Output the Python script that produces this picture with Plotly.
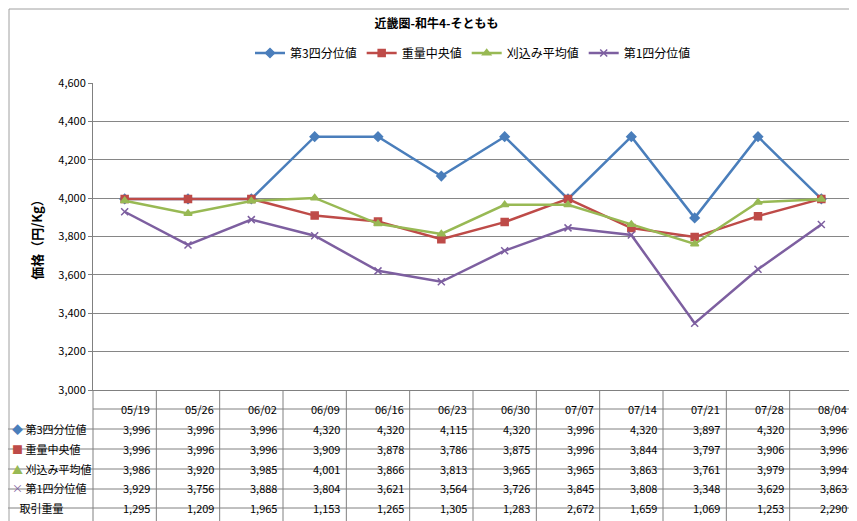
import plotly.graph_objects as go

dates = ['05/19', '05/26', '06/02', '06/09', '06/16', '06/23', '06/30', '07/07', '07/14', '07/21', '07/28', '08/04']
q3 = [3996, 3996, 3996, 4320, 4320, 4115, 4320, 3996, 4320, 3897, 4320, 3996]
median = [3996, 3996, 3996, 3909, 3878, 3786, 3875, 3996, 3844, 3797, 3906, 3996]
trimmed = [3986, 3920, 3985, 4001, 3866, 3813, 3965, 3965, 3863, 3761, 3979, 3994]
q1 = [3929, 3756, 3888, 3804, 3621, 3564, 3726, 3845, 3808, 3348, 3629, 3863]
volume = [1295, 1209, 1965, 1153, 1265, 1305, 1283, 2672, 1659, 1069, 1253, 2290]

series = [
    ('第3四分位値', q3, '#4A7EBB', 'diamond', '◆'),
    ('重量中央値', median, '#BE4B48', 'square', '■'),
    ('刈込み平均値', trimmed, '#98B954', 'triangle-up', '▲'),
    ('第1四分位値', q1, '#7D5FA0', 'x-thin', '×'),
]

FONT = 'Noto Sans CJK JP'
fig = go.Figure()
for name, vals, color, sym, _ in series:
    fig.add_trace(go.Scatter(
        x=dates, y=vals, name=name, mode='lines+markers',
        line=dict(color=color, width=2.5),
        marker=dict(symbol=sym, size=7, color=color, line=dict(color=color, width=1.5)),
    ))

# pixel -> paper coordinates (plot area 85..845 x 75..382)
def px(p):
    return (p - 85) / 760

def py(p):
    return (382 - p) / 307

col_w = 760 / 12
row_lines = [401, 421, 441, 461, 481, 500, 520]
line = dict(color='#808080', width=1)
shapes = []
for p in row_lines:
    shapes.append(dict(type='line', xref='paper', yref='paper', x0=px(0) if p != 401 else 0,
                       x1=1, y0=py(p), y1=py(p), line=line))
for i in range(13):
    shapes.append(dict(type='line', xref='paper', yref='paper', x0=i / 12, x1=i / 12,
                       y0=py(382), y1=py(520), line=line))
shapes.append(dict(type='rect', xref='paper', yref='paper', x0=px(1), x1=px(856),
                   y0=py(520), y1=py(1), line=dict(color='#A0A0A0', width=1)))

ann = []
for i, d in enumerate(dates):
    ann.append(dict(x=(i + 1) / 12, y=py(411), xref='paper', yref='paper', text=d, showarrow=False,
                    xanchor='right', xshift=-4, font=dict(size=11)))
rows = [(s[4], s[2], s[0], s[1]) for s in series] + [('', None, '取引重量', volume)]
for r, (glyph, color, label, vals) in enumerate(rows):
    yc = py(431 + 19.8 * r)
    txt = (f'<span style="color:{color}">{glyph}</span> ' if glyph else '   ') + label
    ann.append(dict(x=px(2), y=yc, xref='paper', yref='paper', text=txt, showarrow=False,
                    xanchor='left', font=dict(size=11)))
    for i, v in enumerate(vals):
        ann.append(dict(x=(i + 1) / 12, y=yc, xref='paper', yref='paper', text=f'{v:,}', showarrow=False,
                        xanchor='right', xshift=-4, font=dict(size=11)))

fig.update_layout(
    width=857, height=521,
    margin=dict(l=85, r=12, t=75, b=139, autoexpand=False),
    paper_bgcolor='white', plot_bgcolor='white',
    font=dict(family=FONT, size=11, color='black'),
    title=dict(text='<b>近畿圏-和牛4-そともも</b>', x=0.5, xanchor='center', y=0.97, yanchor='middle',
               font=dict(size=12)),
    legend=dict(orientation='h', x=0.5, xanchor='center', y=py(45), yanchor='middle', font=dict(size=12)),
    xaxis=dict(type='category', range=[-0.5, 11.5], showticklabels=False, showgrid=False,
               showline=True, linecolor='#808080'),
    yaxis=dict(range=[3000, 4600], dtick=200, tickformat=',', showgrid=True, gridcolor='#868686',
               showline=True, linecolor='#808080', ticks='outside', ticklen=4, tickcolor='#808080',
               title=dict(text='<b>価格（円/Kg）</b>', standoff=12), zeroline=False),
    shapes=shapes, annotations=ann, showlegend=True,
)

fig.write_html('out.html')
